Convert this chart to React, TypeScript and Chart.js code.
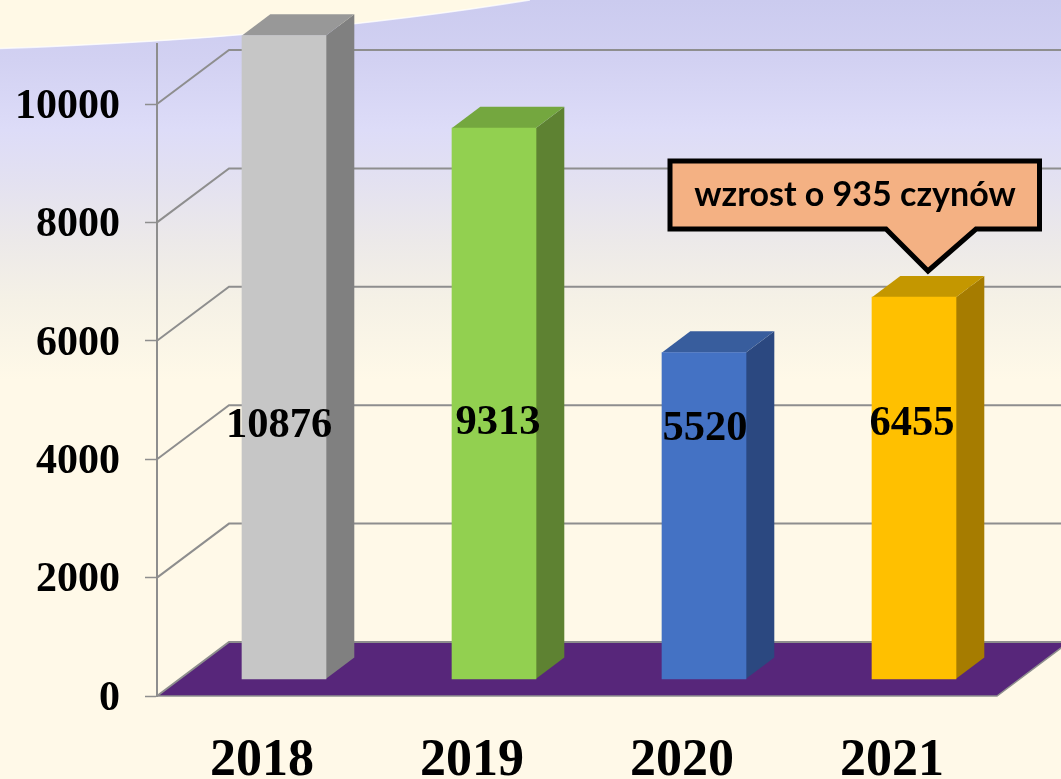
import React, { useEffect, useRef } from "react";
import { Chart, registerables } from "chart.js";

Chart.register(...registerables);

const categories = ["2018", "2019", "2020", "2021"];
const values = [10876, 9313, 5520, 6455];
const yTickValues = [0, 2000, 4000, 6000, 8000, 10000];
const calloutText = "wzrost o 935 czynów";

const frontColors = ["#C6C6C6", "#92D050", "#4472C4", "#FFC000"];
const sideColors = ["#808080", "#5E8232", "#2B4880", "#A67C00"];
const topColors = ["#989898", "#74A73F", "#385D9D", "#C49700"];

const serif = '"Liberation Serif", "DejaVu Serif", serif';
const GRID = "#8E8E8E";
const W = 1061;
const H = 779;

// 3D projection constants
const WALL_DX = 72;
const WALL_DY = 54;
const BAR_DX = 22;
const BAR_DY = 16.7;
const SIDE_DX = 28.3;
const SIDE_DY = 21.3;

const labelShiftX = [17, 26, 23, 20];
const labelCenterY = [426, 423, 429, 424];

const scene = {
  id: "scene",
  beforeDraw(chart: any) {
    const { ctx } = chart;
    ctx.save();
    const g = ctx.createLinearGradient(0, 0, 0, H);
    g.addColorStop(0, "#CBCBEF");
    g.addColorStop(60 / H, "#D2D1F2");
    g.addColorStop(130 / H, "#DDDCF8");
    g.addColorStop(180 / H, "#E3E1F1");
    g.addColorStop(240 / H, "#ECE9E9");
    g.addColorStop(300 / H, "#F5F1E6");
    g.addColorStop(380 / H, "#FFF9E8");
    g.addColorStop(1, "#FFF9E8");
    ctx.fillStyle = g;
    ctx.fillRect(0, 0, W, H);
    const wave = () => {
      ctx.beginPath();
      ctx.moveTo(0, 48.5);
      ctx.bezierCurveTo(130, 44, 320, 34, 530, 0);
    };
    wave();
    ctx.lineTo(0, 0);
    ctx.closePath();
    ctx.fillStyle = "#FFF9E6";
    ctx.fill();
    wave();
    ctx.strokeStyle = "rgba(255,255,255,0.75)";
    ctx.lineWidth = 1.5;
    ctx.stroke();
    ctx.restore();
  },
  beforeDatasetsDraw(chart: any) {
    const { ctx, scales, chartArea } = chart;
    const y = scales.y;
    const left = chartArea.left;
    const right = chartArea.right;
    const y0 = y.getPixelForValue(0);
    ctx.save();
    ctx.beginPath();
    ctx.moveTo(left, y0);
    ctx.lineTo(left + WALL_DX, y0 - WALL_DY);
    ctx.lineTo(right + WALL_DX, y0 - WALL_DY);
    ctx.lineTo(right, y0);
    ctx.closePath();
    ctx.fillStyle = "#57267A";
    ctx.fill();
    ctx.strokeStyle = GRID;
    ctx.lineWidth = 2;
    y.ticks.forEach((t: any) => {
      const p = y.getPixelForValue(t.value);
      ctx.beginPath();
      ctx.moveTo(left, p);
      ctx.lineTo(left + WALL_DX, p - WALL_DY);
      ctx.lineTo(right + WALL_DX, p - WALL_DY);
      ctx.stroke();
    });
    ctx.beginPath();
    ctx.moveTo(left, y0);
    ctx.lineTo(right, y0);
    ctx.lineTo(right + WALL_DX, y0 - WALL_DY);
    ctx.lineWidth = 1.5;
    ctx.stroke();
    ctx.restore();

    ctx.save();
    ctx.translate(BAR_DX, -BAR_DY);
    chart.getDatasetMeta(0).data.forEach((el: any, i: number) => {
      const l = el.x - el.width / 2;
      const r = el.x + el.width / 2;
      ctx.beginPath();
      ctx.moveTo(r, el.y);
      ctx.lineTo(r + SIDE_DX, el.y - SIDE_DY);
      ctx.lineTo(r + SIDE_DX, el.base - SIDE_DY);
      ctx.lineTo(r, el.base);
      ctx.closePath();
      ctx.fillStyle = sideColors[i];
      ctx.fill();
      ctx.beginPath();
      ctx.moveTo(l, el.y);
      ctx.lineTo(l + SIDE_DX, el.y - SIDE_DY);
      ctx.lineTo(r + SIDE_DX, el.y - SIDE_DY);
      ctx.lineTo(r, el.y);
      ctx.closePath();
      ctx.fillStyle = topColors[i];
      ctx.fill();
    });
    // the front faces, drawn next by Chart.js, share this shifted origin
  },
  afterDatasetsDraw(chart: any) {
    const { ctx } = chart;
    ctx.restore();
    ctx.save();
    ctx.fillStyle = "#000";
    ctx.font = `bold 42.5px ${serif}`;
    ctx.textAlign = "center";
    ctx.textBaseline = "middle";
    chart.getDatasetMeta(0).data.forEach((el: any, i: number) => {
      ctx.fillText(String(values[i]), el.x + labelShiftX[i], labelCenterY[i]);
    });
    ctx.restore();
  },
  afterDraw(chart: any) {
    const { ctx } = chart;
    ctx.save();
    ctx.beginPath();
    ctx.moveTo(670, 161);
    ctx.lineTo(1039.5, 161);
    ctx.lineTo(1039.5, 229);
    ctx.lineTo(976, 229);
    ctx.lineTo(928, 271);
    ctx.lineTo(886, 229);
    ctx.lineTo(670, 229);
    ctx.closePath();
    ctx.fillStyle = "#F4B183";
    ctx.fill();
    ctx.strokeStyle = "#000";
    ctx.lineWidth = 5;
    ctx.lineJoin = "miter";
    ctx.stroke();
    ctx.fillStyle = "#000";
    ctx.font = 'bold 34px Lato, "Open Sans", sans-serif';
    ctx.textAlign = "center";
    ctx.textBaseline = "middle";
    ctx.fillText(calloutText, 855, 195);
    ctx.restore();
  },
};

export default function App() {
  const ref = useRef<HTMLCanvasElement>(null);
  useEffect(() => {
    document.body.style.margin = "0";
    const chart = new Chart(ref.current as HTMLCanvasElement, {
      type: "bar",
      data: {
        labels: categories,
        datasets: [
          {
            data: values,
            backgroundColor: frontColors,
            borderWidth: 0,
            barThickness: 84,
            clip: false,
          } as any,
        ],
      },
      options: {
        responsive: false,
        animation: false,
        layout: { padding: { left: 0, top: 44, right: 64, bottom: 0 } },
        plugins: { legend: { display: false }, tooltip: { enabled: false } },
        scales: {
          x: {
            grid: { display: false },
            border: { display: false },
            afterFit: (s: any) => {
              s.height = 83;
            },
            ticks: {
              color: "#000",
              padding: 26,
              maxRotation: 0,
              autoSkip: false,
              font: { family: serif, size: 52, weight: "bold" },
            },
          },
          y: {
            min: 0,
            max: 11014,
            afterBuildTicks: (s: any) => {
              s.ticks = yTickValues.map((value) => ({ value }));
            },
            afterFit: (s: any) => {
              s.width = 157;
              s.paddingTop = 0;
              s.paddingBottom = 0;
            },
            grid: { drawOnChartArea: false, tickLength: 12, tickColor: GRID, tickWidth: 1.5 },
            border: { color: GRID, width: 2 },
            ticks: {
              color: "#000",
              padding: 25,
              labelOffset: 3,
              callback: (v: any) => String(v),
              font: { family: serif, size: 42, weight: "bold" },
            },
          },
        },
      } as any,
      plugins: [scene],
    });
    return () => chart.destroy();
  }, []);
  return <canvas ref={ref} width={W} height={H} style={{ display: "block" }} />;
}
